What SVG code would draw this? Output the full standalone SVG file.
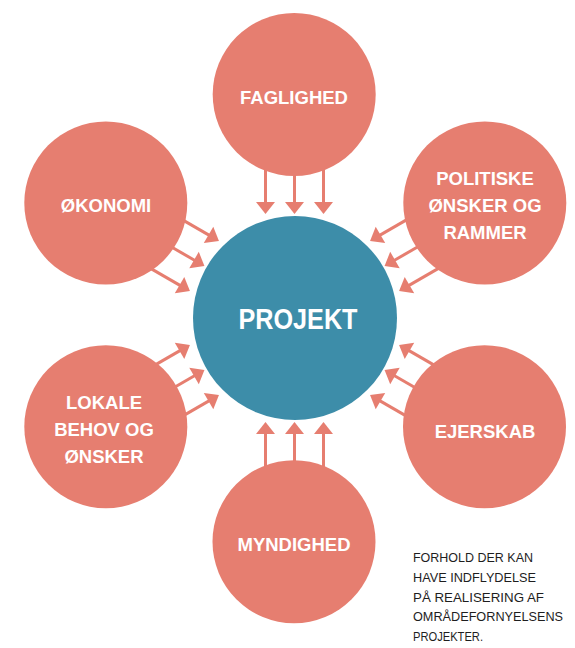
<svg xmlns="http://www.w3.org/2000/svg" xmlns:xlink="http://www.w3.org/1999/xlink" width="575" height="648" viewBox="0 0 575 648">
<style>
.sat{fill:#E67E70}
.core{fill:#3D8DA9}
.lbl{font-family:"Liberation Sans",Arial,sans-serif;font-weight:bold;font-size:18.5px;fill:#fff;text-anchor:middle}
.big{font-family:"Liberation Sans",Arial,sans-serif;font-weight:bold;font-size:29px;fill:#fff;text-anchor:middle}
.cap{font-family:"Liberation Sans",Arial,sans-serif;font-size:13.5px;fill:#1e1e1e}
.shaft{stroke:#E67E70;stroke-width:3;fill:none}
.head{fill:#E67E70}
</style>
<defs>
<g id="arrowset">
<line class="shaft" x1="265.5" y1="160" x2="265.5" y2="203"/>
<polygon class="head" points="265.5,214 256,202 275,202"/>
<line class="shaft" x1="294.5" y1="160" x2="294.5" y2="203"/>
<polygon class="head" points="294.5,214 285,202 304,202"/>
<line class="shaft" x1="323.5" y1="160" x2="323.5" y2="203"/>
<polygon class="head" points="323.5,214 314,202 333,202"/>
</g>
</defs>
<g id="connectors">
<use xlink:href="#arrowset"/>
<use xlink:href="#arrowset" transform="rotate(-60 294.5 318)"/>
<use xlink:href="#arrowset" transform="rotate(-120 294.5 318)"/>
<use xlink:href="#arrowset" transform="rotate(180 294.5 318)"/>
<use xlink:href="#arrowset" transform="rotate(120 294.5 318)"/>
<use xlink:href="#arrowset" transform="rotate(60 294.5 318)"/>
</g>
<g id="projekt">
<circle class="core" cx="295" cy="318" r="102"/>
<text class="big" x="298" y="329" textLength="119" lengthAdjust="spacingAndGlyphs">PROJEKT</text>
</g>
<g id="faglighed">
<circle class="sat" cx="294.2" cy="94.5" r="81.5"/>
<text class="lbl" x="294" y="104">FAGLIGHED</text>
</g>
<g id="okonomi">
<circle class="sat" cx="105.8" cy="203" r="81.5"/>
<text class="lbl" x="106" y="211.5">ØKONOMI</text>
</g>
<g id="politiske">
<circle class="sat" cx="484.8" cy="203" r="81.5"/>
<text class="lbl" x="485" y="185">POLITISKE</text>
<text class="lbl" x="485" y="212">ØNSKER OG</text>
<text class="lbl" x="485" y="239">RAMMER</text>
</g>
<g id="lokale">
<circle class="sat" cx="105.8" cy="426.7" r="81.5"/>
<text class="lbl" x="104" y="409">LOKALE</text>
<text class="lbl" x="104" y="436">BEHOV OG</text>
<text class="lbl" x="104" y="462.5">ØNSKER</text>
</g>
<g id="ejerskab">
<circle class="sat" cx="484.5" cy="426.7" r="81.5"/>
<text class="lbl" x="485" y="437.5">EJERSKAB</text>
</g>
<g id="myndighed">
<circle class="sat" cx="294" cy="541.7" r="81.5"/>
<text class="lbl" x="294" y="550.5">MYNDIGHED</text>
</g>
<g id="caption">
<text class="cap" x="413" y="562" textLength="120" lengthAdjust="spacingAndGlyphs">FORHOLD DER KAN</text>
<text class="cap" x="413" y="582" textLength="123" lengthAdjust="spacingAndGlyphs">HAVE INDFLYDELSE</text>
<text class="cap" x="413" y="601.5" textLength="131" lengthAdjust="spacingAndGlyphs">PÅ REALISERING AF</text>
<text class="cap" x="413" y="621" textLength="150" lengthAdjust="spacingAndGlyphs">OMRÅDEFORNYELSENS</text>
<text class="cap" x="413" y="641" textLength="70" lengthAdjust="spacingAndGlyphs">PROJEKTER.</text>
</g>
</svg>
